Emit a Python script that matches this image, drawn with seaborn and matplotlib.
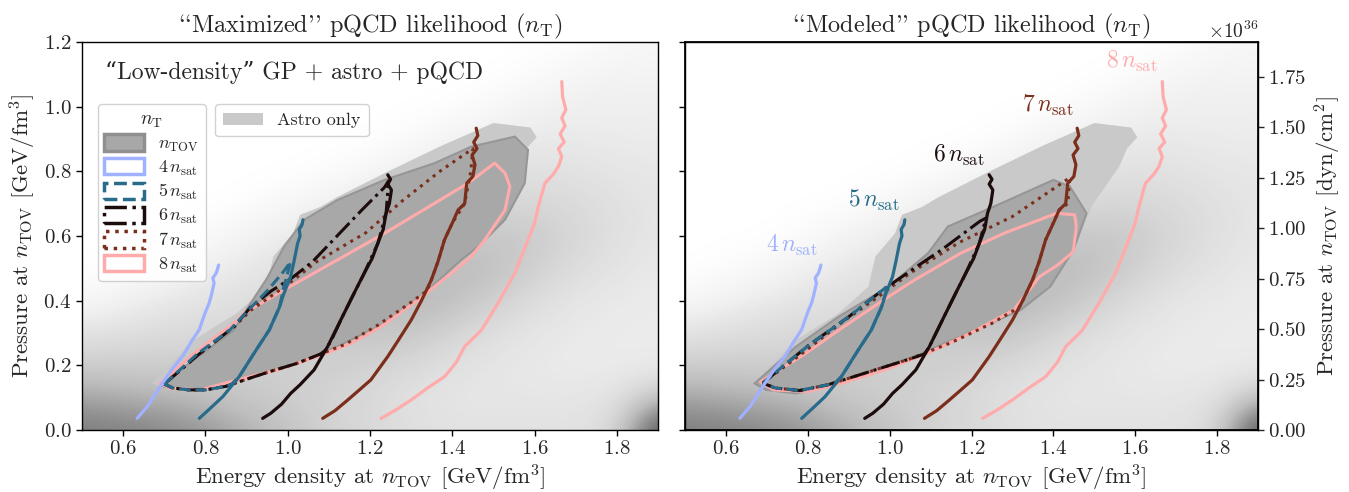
import numpy as np
import matplotlib
matplotlib.use("Agg")
import matplotlib.pyplot as plt
from matplotlib.patches import Patch
from matplotlib.ticker import MultipleLocator, ScalarFormatter
import seaborn as sns

sns.set_theme(style="ticks")
plt.rcParams["font.family"] = ["cmr10", "DejaVu Serif"]
plt.rcParams["mathtext.fontset"] = "cm"
plt.rcParams["axes.formatter.use_mathtext"] = True
plt.rcParams["axes.unicode_minus"] = False

# ---------------- data ----------------
# background sample density (rows: pressure 0.0..1.2 step 0.1; cols: energy 0.5..1.9 step 0.1)
bg_e = [0.5, 0.6, 0.7, 0.8, 0.9, 1.0, 1.1, 1.2, 1.3, 1.4, 1.5, 1.6, 1.7, 1.8, 1.9]
bg_p = [0.0, 0.1, 0.2, 0.3, 0.4, 0.5, 0.6, 0.7, 0.8, 0.9, 1.0, 1.1, 1.2]
bg_density = [
    [0.60, 0.58, 0.55, 0.50, 0.42, 0.35, 0.28, 0.25, 0.22, 0.20, 0.20, 0.20, 0.20, 0.25, 0.80],
    [0.45, 0.42, 0.40, 0.36, 0.32, 0.30, 0.27, 0.25, 0.20, 0.18, 0.18, 0.18, 0.18, 0.20, 0.35],
    [0.30, 0.30, 0.30, 0.30, 0.30, 0.30, 0.30, 0.28, 0.25, 0.21, 0.18, 0.16, 0.15, 0.15, 0.15],
    [0.20, 0.22, 0.24, 0.25, 0.26, 0.28, 0.30, 0.34, 0.33, 0.27, 0.22, 0.18, 0.16, 0.15, 0.15],
    [0.06, 0.12, 0.16, 0.20, 0.22, 0.25, 0.30, 0.35, 0.40, 0.36, 0.29, 0.23, 0.18, 0.16, 0.15],
    [0.00, 0.02, 0.07, 0.13, 0.17, 0.20, 0.23, 0.28, 0.34, 0.38, 0.36, 0.29, 0.23, 0.19, 0.16],
    [0.00, 0.00, 0.00, 0.04, 0.11, 0.15, 0.20, 0.22, 0.26, 0.31, 0.33, 0.31, 0.26, 0.21, 0.18],
    [0.00, 0.00, 0.00, 0.00, 0.01, 0.07, 0.12, 0.17, 0.20, 0.23, 0.26, 0.26, 0.24, 0.21, 0.18],
    [0.00, 0.00, 0.00, 0.00, 0.00, 0.00, 0.02, 0.08, 0.13, 0.17, 0.20, 0.21, 0.20, 0.18, 0.17],
    [0.00, 0.00, 0.00, 0.00, 0.00, 0.00, 0.00, 0.00, 0.04, 0.10, 0.14, 0.16, 0.16, 0.15, 0.15],
    [0.00, 0.00, 0.00, 0.00, 0.00, 0.00, 0.00, 0.00, 0.00, 0.01, 0.06, 0.11, 0.13, 0.13, 0.13],
    [0.00, 0.00, 0.00, 0.00, 0.00, 0.00, 0.00, 0.00, 0.00, 0.00, 0.00, 0.03, 0.08, 0.10, 0.10],
    [0.00, 0.00, 0.00, 0.00, 0.00, 0.00, 0.00, 0.00, 0.00, 0.00, 0.00, 0.00, 0.01, 0.05, 0.07],
]

# lines of constant density (energy density, pressure) in GeV/fm^3
e4 = [0.634, 0.66, 0.695, 0.72, 0.744, 0.768, 0.785, 0.793, 0.80, 0.809, 0.815, 0.821, 0.818, 0.826, 0.83, 0.832]
p4 = [0.036, 0.075, 0.144, 0.19, 0.227, 0.278, 0.31, 0.34, 0.365, 0.392, 0.42, 0.454, 0.47, 0.485, 0.50, 0.51]
e5 = [0.785, 0.81, 0.842, 0.882, 0.923, 0.955, 0.98, 0.99, 1.007, 1.015, 1.024, 1.03, 1.028, 1.035, 1.037]
p5 = [0.036, 0.065, 0.103, 0.165, 0.247, 0.309, 0.38, 0.42, 0.474, 0.52, 0.577, 0.60, 0.62, 0.635, 0.65]
e6 = [0.939, 0.959, 0.985, 1.007, 1.03, 1.064, 1.097, 1.137, 1.16, 1.186, 1.205, 1.219, 1.232, 1.239, 1.247, 1.252, 1.243, 1.25, 1.243]
p6 = [0.036, 0.052, 0.08, 0.113, 0.14, 0.186, 0.258, 0.361, 0.42, 0.485, 0.53, 0.577, 0.62, 0.67, 0.70, 0.742, 0.76, 0.775, 0.789]
e7 = [1.085, 1.115, 1.146, 1.175, 1.202, 1.243, 1.27, 1.3, 1.325, 1.349, 1.365, 1.381, 1.40, 1.414, 1.43, 1.435, 1.45, 1.455, 1.448, 1.46, 1.452, 1.462, 1.458]
p7 = [0.036, 0.06, 0.093, 0.125, 0.155, 0.227, 0.28, 0.34, 0.40, 0.464, 0.52, 0.588, 0.64, 0.68, 0.70, 0.763, 0.784, 0.82, 0.85, 0.87, 0.89, 0.91, 0.933]
e8 = [1.227, 1.26, 1.3, 1.34, 1.381, 1.41, 1.43, 1.471, 1.511, 1.552, 1.584, 1.60, 1.609, 1.625, 1.645, 1.658, 1.666, 1.658, 1.672, 1.662, 1.674, 1.666, 1.676, 1.668, 1.666]
p8 = [0.036, 0.06, 0.093, 0.13, 0.165, 0.21, 0.258, 0.309, 0.392, 0.485, 0.588, 0.64, 0.691, 0.763, 0.79, 0.815, 0.845, 0.87, 0.89, 0.915, 0.94, 0.965, 0.99, 1.03, 1.077]

# Astro-only 90% region (both panels)
astro_e = [0.670, 0.72, 0.771, 0.876, 0.948, 0.965, 1.013, 1.03, 1.08, 1.12, 1.245, 1.376, 1.50, 1.59, 1.605, 1.58, 1.561, 1.52, 1.497, 1.47, 1.43, 1.34, 1.24, 1.12, 1.02, 0.93, 0.83, 0.75, 0.70, 0.670]
astro_p = [0.144, 0.21, 0.278, 0.361, 0.443, 0.536, 0.608, 0.665, 0.69, 0.72, 0.80, 0.88, 0.949, 0.935, 0.905, 0.87, 0.815, 0.74, 0.70, 0.62, 0.55, 0.44, 0.35, 0.27, 0.215, 0.18, 0.14, 0.125, 0.13, 0.144]

# n_TOV regions
ntovL_e = [0.694, 0.772, 0.869, 0.91, 0.95, 0.991, 1.04, 1.121, 1.235, 1.357, 1.446, 1.552, 1.584, 1.576, 1.528, 1.463, 1.422, 1.332, 1.235, 1.121, 1.024, 0.934, 0.829, 0.747, 0.698, 0.694]
ntovL_p = [0.144, 0.217, 0.309, 0.392, 0.47, 0.567, 0.65, 0.711, 0.773, 0.825, 0.876, 0.907, 0.866, 0.763, 0.65, 0.567, 0.526, 0.423, 0.33, 0.258, 0.206, 0.175, 0.134, 0.124, 0.134, 0.144]
ntovR_e = [0.670, 0.771, 0.876, 0.997, 1.094, 1.142, 1.255, 1.40, 1.44, 1.481, 1.449, 1.392, 1.32, 1.19, 1.061, 0.965, 0.852, 0.771, 0.698, 0.670]
ntovR_p = [0.144, 0.258, 0.351, 0.443, 0.547, 0.629, 0.691, 0.773, 0.753, 0.67, 0.557, 0.443, 0.371, 0.299, 0.227, 0.186, 0.134, 0.113, 0.124, 0.144]

# n_T contours, left panel ("Maximized")
c8L_e = [0.690, 0.772, 0.869, 0.894, 0.991, 1.121, 1.235, 1.357, 1.438, 1.503, 1.528, 1.54, 1.528, 1.479, 1.446, 1.398, 1.316, 1.227, 1.154, 1.072, 0.975, 0.877, 0.788, 0.715, 0.690]
c8L_p = [0.144, 0.237, 0.33, 0.361, 0.433, 0.526, 0.608, 0.701, 0.763, 0.825, 0.794, 0.753, 0.68, 0.588, 0.536, 0.485, 0.402, 0.32, 0.268, 0.227, 0.186, 0.155, 0.124, 0.129, 0.144]
c7L_e = [0.70, 0.78, 0.87, 0.91, 1.0, 1.07, 1.19, 1.28, 1.37, 1.45, 1.445, 1.43, 1.40, 1.381, 1.365, 1.349, 1.338, 1.30, 1.22, 1.14, 1.08, 1.02, 0.96, 0.90, 0.85, 0.80, 0.76, 0.72, 0.70]
c7L_p = [0.142, 0.23, 0.32, 0.37, 0.45, 0.52, 0.61, 0.71, 0.80, 0.87, 0.80, 0.70, 0.64, 0.588, 0.52, 0.464, 0.43, 0.395, 0.325, 0.265, 0.235, 0.205, 0.182, 0.157, 0.135, 0.124, 0.124, 0.13, 0.142]
c6L_e = [0.70, 0.78, 0.87, 0.91, 0.96, 1.01, 1.06, 1.12, 1.18, 1.235, 1.245, 1.239, 1.219, 1.186, 1.137, 1.105, 1.09, 1.08, 1.02, 0.96, 0.90, 0.85, 0.80, 0.76, 0.72, 0.70]
c6L_p = [0.142, 0.23, 0.32, 0.38, 0.43, 0.47, 0.52, 0.60, 0.68, 0.75, 0.77, 0.67, 0.577, 0.485, 0.361, 0.275, 0.245, 0.235, 0.205, 0.182, 0.157, 0.135, 0.124, 0.124, 0.13, 0.142]
c5L_e = [0.70, 0.78, 0.86, 0.90, 0.95, 0.99, 1.007, 0.99, 0.98, 0.955, 0.923, 0.882, 0.862, 0.85, 0.80, 0.76, 0.72, 0.70]
c5L_p = [0.142, 0.235, 0.31, 0.365, 0.43, 0.49, 0.52, 0.44, 0.38, 0.309, 0.247, 0.165, 0.14, 0.135, 0.124, 0.124, 0.13, 0.142]

# n_T contours, right panel ("Modeled")
c8R_e = [0.685, 0.795, 0.876, 0.997, 1.061, 1.174, 1.279, 1.408, 1.452, 1.456, 1.449, 1.445, 1.41, 1.366, 1.303, 1.198, 1.094, 0.988, 0.883, 0.80, 0.716, 0.685]
c8R_p = [0.149, 0.237, 0.309, 0.412, 0.464, 0.547, 0.608, 0.67, 0.665, 0.629, 0.557, 0.547, 0.51, 0.474, 0.371, 0.30, 0.238, 0.186, 0.145, 0.119, 0.124, 0.149]
c7R_e = [0.69, 0.80, 0.88, 0.97, 1.05, 1.17, 1.30, 1.37, 1.44, 1.435, 1.414, 1.381, 1.365, 1.349, 1.325, 1.317, 1.25, 1.15, 1.05, 0.95, 0.85, 0.78, 0.72, 0.69]
c7R_p = [0.145, 0.25, 0.33, 0.41, 0.485, 0.58, 0.66, 0.72, 0.78, 0.70, 0.68, 0.588, 0.52, 0.464, 0.40, 0.38, 0.33, 0.27, 0.22, 0.18, 0.14, 0.122, 0.13, 0.145]
c6R_e = [0.69, 0.80, 0.90, 0.98, 1.06, 1.13, 1.22, 1.235, 1.219, 1.186, 1.137, 1.097, 1.085, 1.05, 0.95, 0.85, 0.78, 0.72, 0.69]
c6R_p = [0.145, 0.26, 0.35, 0.43, 0.50, 0.56, 0.645, 0.655, 0.577, 0.485, 0.361, 0.258, 0.235, 0.22, 0.18, 0.14, 0.122, 0.13, 0.145]
c5R_e = [0.69, 0.80, 0.90, 0.96, 0.995, 0.98, 0.955, 0.923, 0.882, 0.866, 0.85, 0.78, 0.72, 0.69]
c5R_p = [0.145, 0.26, 0.35, 0.41, 0.445, 0.38, 0.309, 0.247, 0.165, 0.145, 0.14, 0.122, 0.13, 0.145]

# density-line labels in the right panel
label_text = [r"$4\,n_\mathrm{sat}$", r"$5\,n_\mathrm{sat}$", r"$6\,n_\mathrm{sat}$", r"$7\,n_\mathrm{sat}$", r"$8\,n_\mathrm{sat}$"]
label_e = [0.76, 0.96, 1.169, 1.386, 1.592]
label_p = [0.569, 0.71, 0.85, 1.002, 1.14]

GEV_FM3_TO_DYN_CM2 = 1.602e36

# ---------------- styles ----------------
col = {4: "#a0b1ff", 5: "#286b8a", 6: "#1d0c0c", 7: "#7b2e1b", 8: "#ffabab"}
astro_col = "#c9c9c9"
ntov_col = "#a8a8a8"
ntov_edge = "#969696"

fig = plt.figure(figsize=(13.49, 4.92), dpi=100)
axL = fig.add_axes([0.0608, 0.126, 0.427, 0.789])
axR = fig.add_axes([0.5078, 0.126, 0.4248, 0.789])

dens_lines = [(e4, p4, 4), (e5, p5, 5), (e6, p6, 6), (e7, p7, 7), (e8, p8, 8)]
contours = {
    axL: (ntovL_e, ntovL_p, [(c5L_e, c5L_p, 5, "--"), (c6L_e, c6L_p, 6, "-."), (c7L_e, c7L_p, 7, ":"), (c8L_e, c8L_p, 8, "-")]),
    axR: (ntovR_e, ntovR_p, [(c5R_e, c5R_p, 5, "--"), (c6R_e, c6R_p, 6, "-."), (c7R_e, c7R_p, 7, ":"), (c8R_e, c8R_p, 8, "-")]),
}

bg = np.array(bg_density)
de = (bg_e[1] - bg_e[0]) / 2
dp = (bg_p[1] - bg_p[0]) / 2
for ax in (axL, axR):
    ax.imshow(bg, extent=(bg_e[0] - de, bg_e[-1] + de, bg_p[0] - dp, bg_p[-1] + dp),
              origin="lower", cmap="Greys", vmin=0, vmax=1, aspect="auto",
              interpolation="bicubic", zorder=0)
    ax.fill(astro_e, astro_p, color=astro_col, lw=0, zorder=1)
    ne, npp, clist = contours[ax]
    ax.fill(ne, npp, facecolor=ntov_col, edgecolor=ntov_edge, lw=1.5, zorder=2)
    for ce, cp, k, ls in clist[::-1]:
        sns.lineplot(x=ce, y=cp, sort=False, estimator=None, color=col[k], lw=2.2,
                     linestyle=ls, ax=ax, zorder=3)
    for e, p, k in dens_lines:
        sns.lineplot(x=e, y=p, sort=False, estimator=None, color=col[k], lw=2.3,
                     ax=ax, zorder=4)
    ax.set_xlim(0.5, 1.9)
    ax.set_ylim(0, 1.2)
    ax.xaxis.set_major_locator(MultipleLocator(0.2))
    ax.yaxis.set_major_locator(MultipleLocator(0.2))
    ax.tick_params(direction="out", length=4, width=1, labelsize=15, color="black")
    for s in ax.spines.values():
        s.set_color("black")
        s.set_linewidth(1.0)
    ax.set_xlabel(r"Energy density at $n_\mathrm{TOV}$ [GeV/fm$^3$]", fontsize=16.5, labelpad=3)

axL.set_ylabel(r"Pressure at $n_\mathrm{TOV}$ [GeV/fm$^3$]", fontsize=16.5, labelpad=4)
axR.set_ylabel("")
axR.tick_params(labelleft=False)
axL.set_title(r"``Maximized'' pQCD likelihood ($n_\mathrm{T}$)", fontsize=17.5, pad=7)
axR.set_title(r"``Modeled'' pQCD likelihood ($n_\mathrm{T}$)", fontsize=17.5, pad=7)

axL.text(0.04, 0.92, "\u201cLow-density\u201d GP + astro + pQCD", transform=axL.transAxes,
         fontsize=17, ha="left", va="center")

for txt, x, y, k in zip(label_text, label_e, label_p, [4, 5, 6, 7, 8]):
    axR.text(x, y, txt, color=col[k], fontsize=17, ha="center", va="center", zorder=5)

# twin axis in cgs units
axT = axR.twinx()
axT.set_ylim(0, 1.2 * GEV_FM3_TO_DYN_CM2)
axT.yaxis.set_major_locator(MultipleLocator(0.25e36))
fmt = ScalarFormatter(useMathText=True)
axT.yaxis.set_major_formatter(fmt)
axT.tick_params(direction="out", length=4, width=1, labelsize=15)
axT.yaxis.get_offset_text().set_fontsize(14)
axT.set_ylabel(r"Pressure at $n_\mathrm{TOV}$ [dyn/cm$^2$]", fontsize=16.5, labelpad=4)
for s in axT.spines.values():
    s.set_color("black")

# legends
h1 = [Patch(facecolor=ntov_col, edgecolor="#8f8f8f", lw=2.5, label=r"$n_\mathrm{TOV}$"),
      Patch(facecolor="none", edgecolor=col[4], lw=2.5, label=r"$4\,n_\mathrm{sat}$"),
      Patch(facecolor="none", edgecolor=col[5], lw=2.5, ls="--", label=r"$5\,n_\mathrm{sat}$"),
      Patch(facecolor="none", edgecolor=col[6], lw=2.5, ls="-.", label=r"$6\,n_\mathrm{sat}$"),
      Patch(facecolor="none", edgecolor=col[7], lw=2.5, ls=":", label=r"$7\,n_\mathrm{sat}$"),
      Patch(facecolor="none", edgecolor=col[8], lw=2.5, label=r"$8\,n_\mathrm{sat}$")]
leg1 = axL.legend(handles=h1, title=r"$n_\mathrm{T}$", loc="upper left", bbox_to_anchor=(0.012, 0.862),
                  fontsize=13, title_fontsize=14, handlelength=2.2, handleheight=1.0,
                  labelspacing=0.25, borderpad=0.35, framealpha=0.9, edgecolor="#cccccc", fancybox=True)
axL.add_artist(leg1)
axL.legend(handles=[Patch(facecolor=astro_col, edgecolor="none", label="Astro only")], loc="upper left",
           bbox_to_anchor=(0.215, 0.862), fontsize=13, handlelength=2.2, borderpad=0.45,
           framealpha=0.9, edgecolor="#cccccc", fancybox=True)

fig.savefig("out.png", dpi=100)
